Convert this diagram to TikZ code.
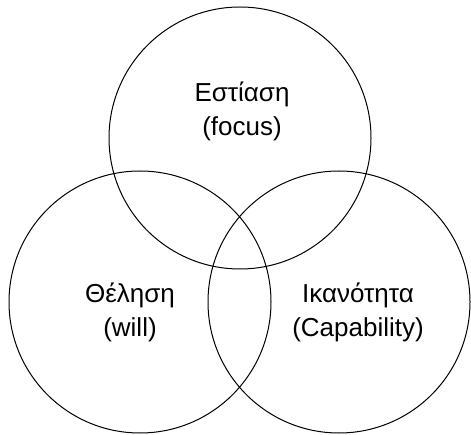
\documentclass[tikz,border=0pt]{standalone}
\usepackage{fontspec}
\setmainfont{Liberation Sans}
\begin{document}
\begin{tikzpicture}[x=1pt,y=-1pt,
  ring/.style={draw=black,line width=1pt},
  lbl/.style={align=center,font=\fontsize{26}{34}\selectfont,inner sep=0pt}]
\useasboundingbox (0,0) rectangle (471,435);
\draw[ring] (240,138) circle[radius=131];
\draw[ring] (140,302) circle[radius=131];
\draw[ring] (339,302) circle[radius=131];
\node[lbl] (focus) at (242,111) {Εστίαση\\(focus)};
\node[lbl] (will) at (130,312) {Θέληση\\(will)};
\node[lbl] (cap) at (358,312) {Ικανότητα\\(Capability)};
\end{tikzpicture}
\end{document}
